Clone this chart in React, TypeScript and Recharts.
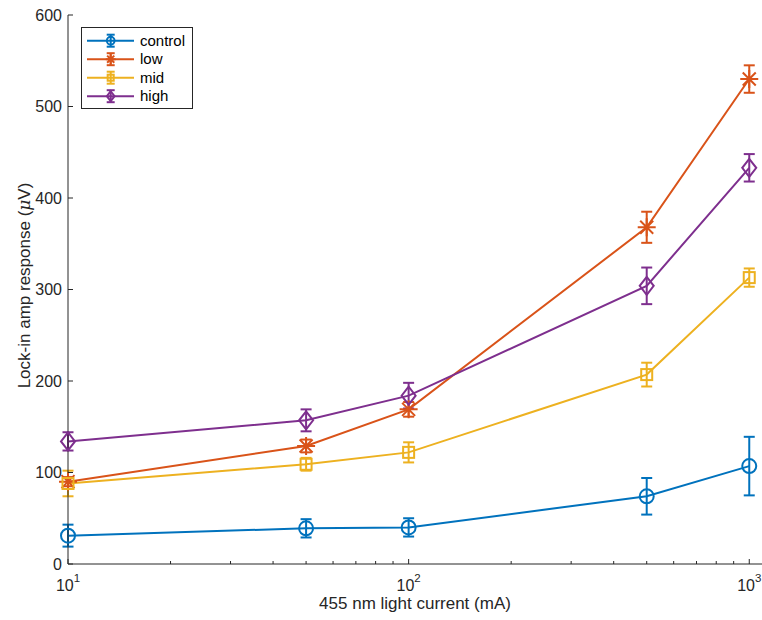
import React from 'react';
import { ComposedChart, Line, XAxis, YAxis, ErrorBar, Legend, Label } from 'recharts';

// ---- data ----
const currents = [10, 50, 100, 500, 1000];
const control = [31, 39, 40, 74, 107];
const controlErr = [12, 10, 10, 20, 32];
const low = [90, 129, 169, 368, 530];
const lowErr = [5, 7, 8, 17, 15];
const mid = [88, 109, 122, 207, 313];
const midErr = [14, 7, 11, 13, 10];
const high = [134, 157, 184, 304, 433];
const highErr = [10, 12, 14, 20, 15];

const xTicks = [10, 20, 30, 40, 50, 60, 70, 80, 90, 100, 200, 300, 400, 500, 600, 700, 800, 900, 1000];
const majorXTicks = [10, 100, 1000];
const yTicks = [0, 100, 200, 300, 400, 500, 600];

const xTitle = '455 nm light current (mA)';
const yTitleA = 'Lock-in amp response (';
const yTitleMu = 'μ';
const yTitleB = 'V)';

const series = [
  { key: 'control', name: 'control', color: '#0072BD', shape: 'circle' },
  { key: 'low', name: 'low', color: '#D95319', shape: 'asterisk' },
  { key: 'mid', name: 'mid', color: '#EDB120', shape: 'square' },
  { key: 'high', name: 'high', color: '#7E2F8E', shape: 'diamond' },
];

const data = currents.map((c, i) => ({
  current: c,
  control: control[i],
  controlErr: controlErr[i],
  low: low[i],
  lowErr: lowErr[i],
  mid: mid[i],
  midErr: midErr[i],
  high: high[i],
  highErr: highErr[i],
}));

const FONT = '"Liberation Sans", Arial, Helvetica, sans-serif';
const AXIS = '#262626';

function Marker({ shape, cx, cy, color, s = 1 }: any) {
  const sw = 2;
  switch (shape) {
    case 'circle':
      return <circle cx={cx} cy={cy} r={7 * s} fill="none" stroke={color} strokeWidth={sw} />;
    case 'square':
      return (
        <rect x={cx - 5.5 * s} y={cy - 5.5 * s} width={11 * s} height={11 * s} fill="none" stroke={color} strokeWidth={sw} />
      );
    case 'diamond':
      return (
        <polygon
          points={`${cx},${cy - 9 * s} ${cx + 7 * s},${cy} ${cx},${cy + 9 * s} ${cx - 7 * s},${cy}`}
          fill="none"
          stroke={color}
          strokeWidth={sw}
        />
      );
    default: {
      const r = 9 * s;
      const d = 6.5 * s;
      return (
        <path
          d={`M${cx - r},${cy}H${cx + r}M${cx},${cy - r}V${cy + r}M${cx - d},${cy - d}L${cx + d},${cy + d}M${cx - d},${cy + d}L${cx + d},${cy - d}`}
          fill="none"
          stroke={color}
          strokeWidth={sw}
        />
      );
    }
  }
}

const makeDot = (shape: string, color: string) => (props: any) => {
  const { cx, cy, index } = props;
  if (cx == null || cy == null) return <g key={`d-${index}`} />;
  return (
    <g key={`d-${shape}-${index}`}>
      <Marker shape={shape} cx={cx} cy={cy} color={color} />
    </g>
  );
};

const BottomTick = (props: any) => {
  const { x, y, payload } = props;
  const v = payload.value;
  const major = majorXTicks.includes(v);
  const exp = Math.round(Math.log10(v));
  return (
    <g>
      <line x1={x} x2={x} y1={y} y2={y - (major ? 5 : 3)} stroke={AXIS} strokeWidth={1} />
      {major && (
        <text x={x} y={y + 27} textAnchor="middle" fontSize={16} fill="#262626" fontFamily={FONT}>
          10
          <tspan dy={-9} fontSize={11.5}>
            {exp}
          </tspan>
        </text>
      )}
    </g>
  );
};

const TopTick = (props: any) => {
  const { x, y, payload } = props;
  const major = majorXTicks.includes(payload.value);
  return <line x1={x} x2={x} y1={y} y2={y + (major ? 5 : 3)} stroke={AXIS} strokeWidth={1} />;
};

const LeftTick = (props: any) => {
  const { x, y, payload } = props;
  return (
    <g>
      <line x1={x} x2={x + 5} y1={y} y2={y} stroke={AXIS} strokeWidth={1} />
      <text x={x - 6} y={y + 5.5} textAnchor="end" fontSize={16} fill="#262626" fontFamily={FONT}>
        {payload.value}
      </text>
    </g>
  );
};

const RightTick = (props: any) => {
  const { x, y } = props;
  return <line x1={x} x2={x - 5} y1={y} y2={y} stroke={AXIS} strokeWidth={1} />;
};

const XTitle = (props: any) => {
  const vb = props.viewBox;
  return (
    <text x={vb.x + vb.width / 2} y={vb.y + 45} textAnchor="middle" fontSize={17} fill="#262626" fontFamily={FONT}>
      {xTitle}
    </text>
  );
};

const YTitle = (props: any) => {
  const vb = props.viewBox;
  const cx = 30;
  const cy = vb.y + vb.height / 2 - 4;
  return (
    <text
      x={cx}
      y={cy}
      textAnchor="middle"
      fontSize={17}
      fill="#262626"
      fontFamily={FONT}
      transform={`rotate(-90, ${cx}, ${cy})`}
    >
      {yTitleA}
      <tspan fontStyle="italic" fontFamily='"DejaVu Serif", serif'>{yTitleMu}</tspan>
      {yTitleB}
    </text>
  );
};

const renderLegend = () => (
  <svg width={112} height={82} style={{ display: 'block' }}>
    <rect x={0.5} y={0.5} width={111} height={81} fill="#fff" stroke={AXIS} strokeWidth={1} />
    {series.map((s, i) => {
      const cy = 13.7 + i * 18.5;
      return (
        <g key={s.key}>
          <line x1={6} x2={53} y1={cy} y2={cy} stroke={s.color} strokeWidth={2} />
          <line x1={29.7} x2={29.7} y1={cy - 6} y2={cy + 6} stroke={s.color} strokeWidth={2} />
          <line x1={25.7} x2={33.7} y1={cy - 6} y2={cy - 6} stroke={s.color} strokeWidth={2} />
          <line x1={25.7} x2={33.7} y1={cy + 6} y2={cy + 6} stroke={s.color} strokeWidth={2} />
          <Marker shape={s.shape} cx={29.7} cy={cy} color={s.color} s={0.55} />
          <text x={59} y={cy + 5} fontSize={15} fill="#000" fontFamily={FONT}>
            {s.name}
          </text>
        </g>
      );
    })}
  </svg>
);

export default function App() {
  return (
    <div style={{ position: 'absolute', left: 0, top: 0, width: 762, height: 620, background: '#fff', fontFamily: FONT }}>
      <ComposedChart width={762} height={620} data={data} margin={{ top: 15, right: 0, bottom: 0, left: 0 }}>
        <XAxis
          xAxisId="bottom"
          dataKey="current"
          type="number"
          scale="log"
          domain={[10, 1090]}
          ticks={xTicks}
          interval={0}
          height={56}
          tickSize={0}
          tickMargin={0}
          tickLine={false}
          axisLine={{ stroke: AXIS, strokeWidth: 1 }}
          tick={<BottomTick />}
        >
          <Label content={<XTitle />} />
        </XAxis>
        <XAxis
          xAxisId="top"
          orientation="top"
          dataKey="current"
          type="number"
          scale="log"
          domain={[10, 1090]}
          ticks={xTicks}
          interval={0}
          height={0}
          tickSize={0}
          tickMargin={0}
          tickLine={false}
          axisLine={{ stroke: AXIS, strokeWidth: 1 }}
          tick={<TopTick />}
        />
        <YAxis
          yAxisId="left"
          type="number"
          domain={[0, 600]}
          ticks={yTicks}
          interval={0}
          width={68}
          tickSize={0}
          tickMargin={0}
          tickLine={false}
          axisLine={{ stroke: AXIS, strokeWidth: 1 }}
          tick={<LeftTick />}
        >
          <Label content={<YTitle />} />
        </YAxis>
        <YAxis
          yAxisId="right"
          orientation="right"
          type="number"
          domain={[0, 600]}
          ticks={yTicks}
          interval={0}
          width={0}
          tickSize={0}
          tickMargin={0}
          tickLine={false}
          axisLine={{ stroke: AXIS, strokeWidth: 1 }}
          tick={<RightTick />}
        />
        <Legend
          layout="vertical"
          align="center"
          verticalAlign="middle"
          content={renderLegend}
          wrapperStyle={{ left: 81, top: 27, width: 112, height: 82, right: 'auto', bottom: 'auto' }}
        />
        {series.map((s) => (
          <Line
            key={s.key}
            xAxisId="bottom"
            yAxisId="left"
            dataKey={s.key}
            name={s.name}
            type="linear"
            stroke={s.color}
            strokeWidth={2}
            dot={makeDot(s.shape, s.color)}
            activeDot={false}
            isAnimationActive={false}
          >
            <ErrorBar dataKey={`${s.key}Err`} direction="y" width={5.5} strokeWidth={2} stroke={s.color} isAnimationActive={false} />
          </Line>
        ))}
      </ComposedChart>
    </div>
  );
}
